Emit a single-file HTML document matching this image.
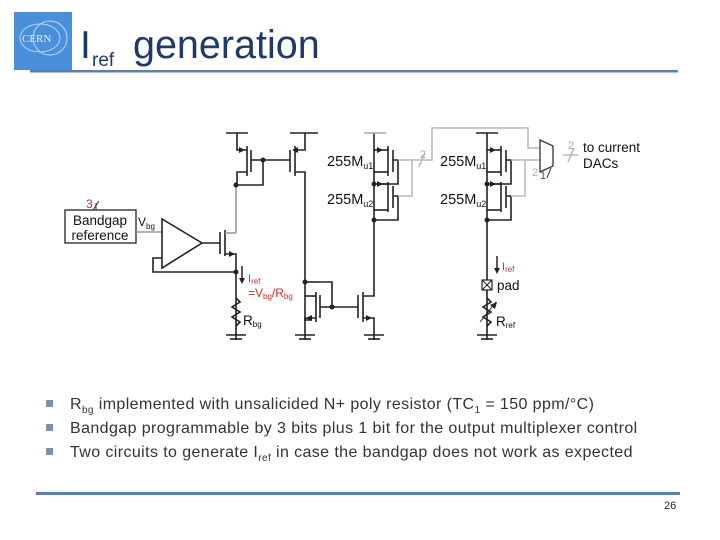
<!DOCTYPE html>
<html><head><meta charset="utf-8"><style>
body{margin:0;background:#fff;}
.w{position:relative;width:720px;height:540px;overflow:hidden;font-family:"Liberation Sans",sans-serif;}
</style></head><body><div class="w">
<svg width="720" height="540" viewBox="0 0 720 540" xmlns="http://www.w3.org/2000/svg" font-family="Liberation Sans, sans-serif">
<rect x="14" y="12" width="58" height="58" fill="#4a8fdc"/>
<ellipse cx="40" cy="38" rx="20" ry="14" fill="none" stroke="#bcd6f5" stroke-width="1"/>
<circle cx="50" cy="38" r="17" fill="none" stroke="#bcd6f5" stroke-width="1"/>
<text x="22" y="42" font-size="11" fill="#e6f0fc" font-family="Liberation Serif, serif">CERN</text>
<text x="80" y="58" font-size="39" fill="#1f3a68">I</text>
<text x="92" y="66" font-size="19" fill="#1f3a68">ref</text>
<text x="133" y="58" font-size="39.5" fill="#1f3a68">generation</text>
<rect x="30" y="70" width="648" height="2.5" fill="#5b7fae"/>
<rect x="65" y="210" width="71" height="33" fill="#fff" stroke="#222" stroke-width="1.3"/>
<text x="100" y="225" font-size="13.5" text-anchor="middle" fill="#111">Bandgap</text>
<text x="100" y="240" font-size="13.5" text-anchor="middle" fill="#111">reference</text>
<text x="86" y="208" font-size="12" fill="#c0302e">3</text>
<line x1="93" y1="210" x2="99" y2="201" stroke="#333"/>
<line x1="96" y1="210" x2="96" y2="203" stroke="#333"/>
<text x="138" y="226" font-size="12" fill="#111">V</text><text x="146" y="229" font-size="8" fill="#111">bg</text>
<g stroke="#222" stroke-width="1.6" fill="none">
<line x1="136" y1="232" x2="162" y2="232" stroke="#999"/>
<polygon points="162,219 162,268 202,243" stroke="#222"/>
<polyline points="162,258 153,258 153,272 236,272"/>
<line x1="202" y1="243" x2="220" y2="243"/>
<line x1="220" y1="232" x2="220" y2="254"/>
<line x1="225" y1="230" x2="225" y2="256"/>
<polyline points="225,233 236,233" stroke="#999"/>
<polyline points="225,254 236,254 236,340"/>
<line x1="236" y1="185" x2="236" y2="233" stroke="#999"/>
<polyline points="236,298 240,302 232,307 240,312 232,317 240,322 236,326"/>
<line x1="226" y1="335" x2="246" y2="335"/><line x1="230" y1="339" x2="242" y2="339"/>
<line x1="226" y1="133" x2="248" y2="133"/>
<polyline points="237,133 237,150 247,150"/>
<line x1="247" y1="146" x2="247" y2="176"/>
<line x1="251" y1="150" x2="251" y2="172"/>
<polyline points="247,172 237,172 237,185"/>
<polyline points="251,160 290,160"/>
<polyline points="263,160 263,185 236,185"/>
<line x1="290" y1="133" x2="318" y2="133"/>
<line x1="290" y1="150" x2="290" y2="172"/>
<line x1="295" y1="146" x2="295" y2="176"/>
<polyline points="295,150 305,150 305,133"/>
<polyline points="295,172 305,172 305,320 312,320"/>
<line x1="305" y1="282" x2="318" y2="282"/>
<polyline points="305,296 316,296"/>
<line x1="316" y1="292" x2="316" y2="322"/>
<line x1="320" y1="295" x2="320" y2="318"/>
<polyline points="320,307 358,307"/>
<polyline points="332,307 332,282 318,282"/>
<polyline points="316,318 305,318 305,340"/>
<line x1="295" y1="335" x2="315" y2="335"/><line x1="299" y1="339" x2="311" y2="339"/>
<line x1="358" y1="295" x2="358" y2="318"/>
<line x1="363" y1="292" x2="363" y2="322"/>
<polyline points="363,296 374,296 374,133"/>
<polyline points="363,318 374,318 374,340"/>
<line x1="364" y1="335" x2="384" y2="335"/><line x1="368" y1="339" x2="380" y2="339"/>
<line x1="364" y1="133" x2="386" y2="133" stroke="#aaa"/>
<polyline points="374,150 388,150"/>
<line x1="388" y1="146" x2="388" y2="176"/>
<line x1="393" y1="150" x2="393" y2="172"/>
<polyline points="388,172 374,172"/>
<polyline points="374,184 388,184"/>
<line x1="388" y1="182" x2="388" y2="212"/>
<line x1="393" y1="186" x2="393" y2="208"/>
<polyline points="388,210 374,210"/>
<polyline points="374,220 398,220 398,196 393,196"/>
<polyline points="374,184 398,184 398,160 393,160"/>
<line x1="476" y1="133" x2="498" y2="133"/>
<polyline points="487,133 487,340"/>
<polyline points="487,150 501,150"/>
<line x1="501" y1="146" x2="501" y2="176"/>
<line x1="506" y1="150" x2="506" y2="172"/>
<polyline points="501,172 487,172"/>
<polyline points="487,184 501,184"/>
<line x1="501" y1="182" x2="501" y2="212"/>
<line x1="506" y1="186" x2="506" y2="208"/>
<polyline points="501,210 487,210"/>
<polyline points="487,220 511,220 511,196 506,196"/>
<polyline points="487,184 511,184 511,160 506,160"/>
<polyline points="487,298 491,302 483,307 491,312 483,317 491,322 487,326"/>
<line x1="480" y1="322" x2="496" y2="302" stroke-width="1"/>
<line x1="477" y1="335" x2="497" y2="335"/><line x1="481" y1="339" x2="493" y2="339"/>
</g>
<g stroke="#b8b8b8" stroke-width="1.5" fill="none">
<polyline points="398,160 432,160 432,128 528,128 528,148 540,148"/>
<polyline points="398,196 412,196 412,160"/>
<polyline points="511,160 540,160"/>
<polyline points="511,196 525,196 525,160"/>
<line x1="419" y1="167" x2="425" y2="153"/>
<line x1="563" y1="155" x2="578" y2="155"/>
<line x1="568" y1="162" x2="574" y2="148"/>
</g>
<text x="420" y="158" font-size="11" fill="#aaa">2</text>
<text x="532" y="176" font-size="11" fill="#aaa">2</text>
<text x="568" y="149" font-size="11" fill="#aaa">2</text>
<polygon points="540,140 553,146 553,166 540,172" fill="none" stroke="#333" stroke-width="1.3"/>
<text x="540" y="179" font-size="11" fill="#c0302e">1</text>
<line x1="547" y1="178" x2="551" y2="168" stroke="#333"/>
<text x="583" y="152" font-size="13.5" fill="#111">to current</text>
<text x="583" y="168" font-size="13.5" fill="#111">DACs</text>
<g fill="#222">
<polygon points="239,147 245,150 239,153"/>
<polygon points="298,147 298,153 292,150"/>
<polygon points="377,147 383,150 377,153"/>
<polygon points="377,181 383,184 377,187"/>
<polygon points="490,147 496,150 490,153"/>
<polygon points="490,181 496,184 490,187"/>
<polygon points="229,251 235,254 229,257"/>
<polygon points="312,315 312,321 306,318"/>
<polygon points="366,315 372,318 366,321"/>
<polygon points="497,302 490,305 495,309"/>
<circle cx="263" cy="160" r="2.5"/><circle cx="236" cy="185" r="2.5"/>
<circle cx="236" cy="272" r="2.5"/><circle cx="305" cy="282" r="2.5"/>
<circle cx="332" cy="307" r="2.5"/>
<circle cx="374" cy="184" r="2.5"/><circle cx="374" cy="220" r="2.5"/>
<circle cx="487" cy="184" r="2.5"/><circle cx="487" cy="220" r="2.5"/>
</g>
<line x1="242" y1="266" x2="242" y2="280" stroke="#222" stroke-width="1.5"/>
<polygon points="239,278 245,278 242,284" fill="#222"/>
<line x1="497" y1="256" x2="497" y2="270" stroke="#222" stroke-width="1.5"/>
<polygon points="494,268 500,268 497,274" fill="#222"/>
<rect x="482" y="280" width="10" height="10" fill="#fff" stroke="#222" stroke-width="1.2"/>
<line x1="482" y1="280" x2="492" y2="290" stroke="#222"/><line x1="492" y1="280" x2="482" y2="290" stroke="#222"/>
<text x="497" y="290" font-size="13.5" fill="#111">pad</text>
<text x="248" y="282" font-size="11" fill="#c0302e">I<tspan font-size="8" dy="2">ref</tspan></text>
<text x="248" y="297" font-size="12" fill="#c0302e">=V<tspan font-size="8" dy="2">bg</tspan><tspan dy="-2">/R</tspan><tspan font-size="8" dy="2">bg</tspan></text>
<text x="502" y="270" font-size="11" fill="#c0302e">I<tspan font-size="8" dy="2">ref</tspan></text>
<text x="243" y="325" font-size="13.5" fill="#111">R<tspan font-size="8" dy="2">bg</tspan></text>
<text x="496" y="326" font-size="13.5" fill="#111">R<tspan font-size="8" dy="2">ref</tspan></text>
<text x="327" y="166" font-size="14.5" fill="#111">255M<tspan font-size="9" dy="3">u1</tspan></text>
<text x="327" y="204" font-size="14.5" fill="#111">255M<tspan font-size="9" dy="3">u2</tspan></text>
<text x="440" y="166" font-size="14.5" fill="#111">255M<tspan font-size="9" dy="3">u1</tspan></text>
<text x="440" y="204" font-size="14.5" fill="#111">255M<tspan font-size="9" dy="3">u2</tspan></text>
<g fill="#7f8fa6"><rect x="46" y="400" width="7" height="7"/><rect x="46" y="424" width="7" height="7"/><rect x="46" y="448" width="7" height="7"/></g>
<g font-size="16" fill="#333" letter-spacing="0.4">
<text x="70" y="409">R<tspan font-size="10" dy="4">bg</tspan><tspan dy="-4"> implemented with unsalicided N+ poly resistor (TC</tspan><tspan font-size="10" dy="4">1</tspan><tspan dy="-4"> = 150 ppm/°C)</tspan></text>
<text x="70" y="433">Bandgap programmable by 3 bits plus 1 bit for the output multiplexer control</text>
<text x="70" y="457">Two circuits to generate I<tspan font-size="10" dy="4">ref</tspan><tspan dy="-4"> in case the bandgap does not work as expected</tspan></text>
</g>
<rect x="36" y="492" width="644" height="3" fill="#5b7fae"/>
<text x="664" y="509" font-size="11" fill="#222">26</text>
</svg>
</div></body></html>
